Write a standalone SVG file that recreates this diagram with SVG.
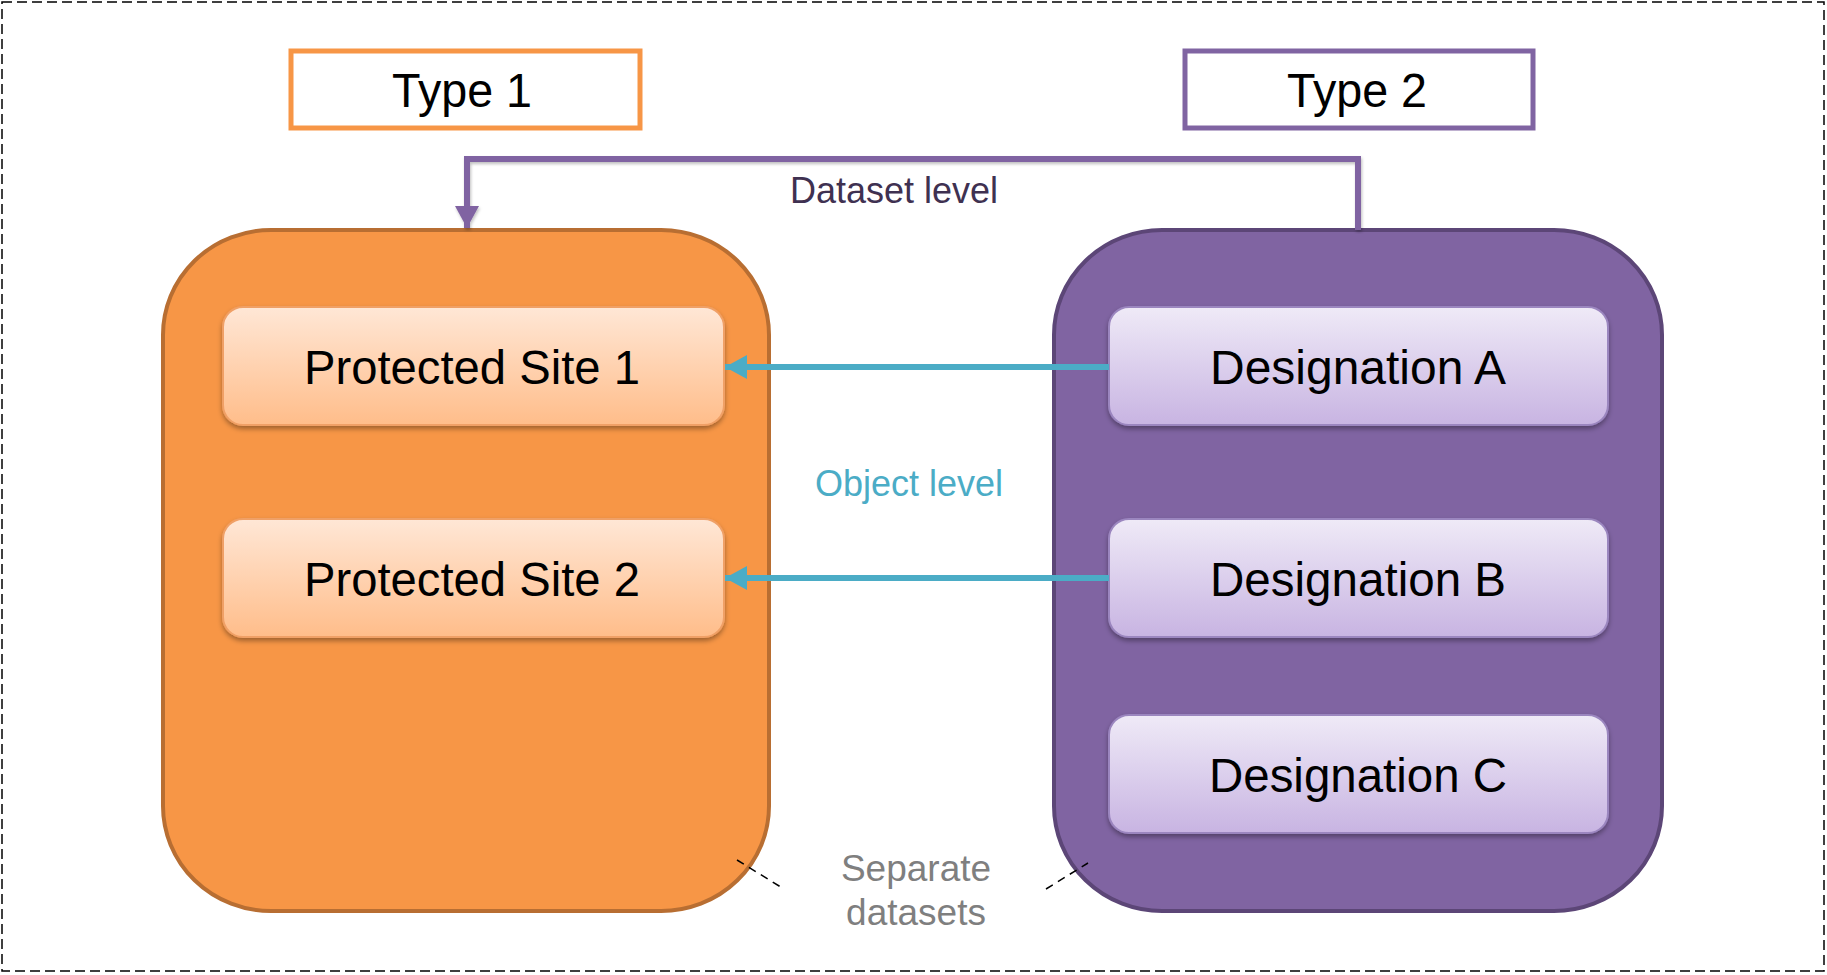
<svg xmlns="http://www.w3.org/2000/svg" width="1827" height="975" viewBox="0 0 1827 975">
<defs>
<linearGradient id="gOr" x1="0" y1="0" x2="0" y2="1"><stop offset="0" stop-color="#FFE7D6"/><stop offset="1" stop-color="#FFBD8A"/></linearGradient>
<linearGradient id="gPu" x1="0" y1="0" x2="0" y2="1"><stop offset="0" stop-color="#EFEAF7"/><stop offset="1" stop-color="#C8B4E2"/></linearGradient>
<filter id="sh" x="-10%" y="-10%" width="120%" height="130%"><feDropShadow dx="0" dy="3" stdDeviation="2.5" flood-color="#000" flood-opacity="0.35"/></filter>
<filter id="shl" x="-5%" y="-5%" width="110%" height="110%"><feDropShadow dx="1" dy="2" stdDeviation="1.5" flood-color="#000" flood-opacity="0.25"/></filter>
<marker id="aBlue" markerUnits="userSpaceOnUse" markerWidth="26" markerHeight="26" refX="22" refY="12" orient="auto"><path d="M0,0 L22,12 L0,24 Z" fill="#4BACC6"/></marker>
<marker id="aPur" markerUnits="userSpaceOnUse" markerWidth="26" markerHeight="26" refX="22" refY="12" orient="auto"><path d="M0,0 L22,12 L0,24 Z" fill="#8064A2"/></marker>
</defs>
<style>
text{font-family:"Liberation Sans",Arial,sans-serif;text-anchor:middle}
.lbl{font-size:48px;fill:#000}
.big{stroke-width:4}
.inO{fill:url(#gOr);stroke:#F0A066;stroke-width:2;filter:url(#sh)}
.inP{fill:url(#gPu);stroke:#9B86BF;stroke-width:2;filter:url(#sh)}
.obj{stroke:#4BACC6;stroke-width:6;fill:none;marker-end:url(#aBlue)}
.ds{stroke:#8064A2;stroke-width:6;fill:none;marker-end:url(#aPur);filter:url(#shl)}
.sep{stroke:#000;stroke-width:1.5;stroke-dasharray:8 6;fill:none}
</style>
<rect x="0" y="0" width="1827" height="975" fill="#fff"/>
<rect id="frame" x="2" y="2" width="1822" height="969" fill="none" stroke="#000" stroke-width="1.5" stroke-dasharray="10 5"/>

<g id="type1"><rect x="291" y="51" width="349" height="77" fill="#fff" stroke="#F79646" stroke-width="5"/><text class="lbl" x="462" y="107" textLength="140" lengthAdjust="spacingAndGlyphs">Type 1</text></g>
<g id="type2"><rect x="1185" y="51" width="348" height="77" fill="#fff" stroke="#8064A2" stroke-width="5"/><text class="lbl" x="1357" y="107" textLength="140" lengthAdjust="spacingAndGlyphs">Type 2</text></g>

<g id="dataset1"><rect x="163" y="230" width="606" height="681" rx="108" ry="105" fill="#F79646" stroke="#B86E32" class="big"/></g>
<g id="dataset2"><rect x="1054" y="230" width="608" height="681" rx="108" ry="105" fill="#8064A2" stroke="#5C4677" class="big"/></g>

<g id="ps1"><rect class="inO" x="223" y="307" width="501" height="118" rx="20"/><text class="lbl" x="472" y="384" textLength="336" lengthAdjust="spacingAndGlyphs">Protected Site 1</text></g>
<g id="ps2"><rect class="inO" x="223" y="519" width="501" height="118" rx="20"/><text class="lbl" x="472" y="596" textLength="336" lengthAdjust="spacingAndGlyphs">Protected Site 2</text></g>
<g id="desA"><rect class="inP" x="1109" y="307" width="499" height="118" rx="20"/><text class="lbl" x="1358" y="384" textLength="296" lengthAdjust="spacingAndGlyphs">Designation A</text></g>
<g id="desB"><rect class="inP" x="1109" y="519" width="499" height="118" rx="20"/><text class="lbl" x="1358" y="596" textLength="296" lengthAdjust="spacingAndGlyphs">Designation B</text></g>
<g id="desC"><rect class="inP" x="1109" y="715" width="499" height="118" rx="20"/><text class="lbl" x="1358" y="792" textLength="298" lengthAdjust="spacingAndGlyphs">Designation C</text></g>

<g id="connectors">
<path class="ds" d="M1358,230 L1358,159 L467,159 L467,228"/>
<text x="894" y="203" font-size="36" fill="#3F3151">Dataset level</text>
<path class="obj" d="M1109,367 L725,367"/>
<path class="obj" d="M1109,578 L725,578"/>
<text x="909" y="496" font-size="36" fill="#4BACC6">Object level</text>
<path class="sep" d="M737,860 L784,889"/>
<path class="sep" d="M1046,889 L1088,863"/>
<text x="916" y="881" font-size="37" fill="#7F7F7F">Separate</text>
<text x="916" y="925" font-size="37" fill="#7F7F7F">datasets</text>
</g>
</svg>
